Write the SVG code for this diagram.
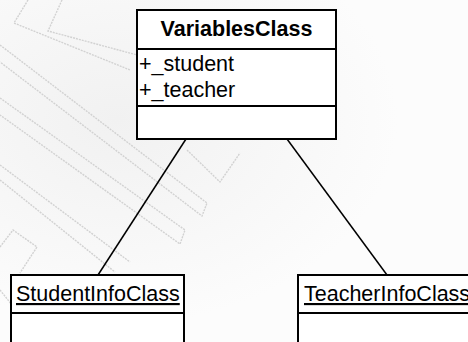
<svg xmlns="http://www.w3.org/2000/svg" width="468" height="342" viewBox="0 0 468 342">
  <defs>
    <style>
      .wm { fill: none; stroke: #d2d2d2; stroke-width: 1.4; stroke-dasharray: 2 1; }
      .box { fill: #ffffff; stroke: #000000; stroke-width: 2; }
      .div { stroke: #000000; stroke-width: 2; }
      .edge { stroke: #000000; stroke-width: 1.5; fill: none; }
      .t { font-family: "Liberation Sans", Arial, sans-serif; font-size: 21.5px; fill: #000000; }
      .title { font-weight: bold; text-anchor: middle; }
      .inst { text-decoration: underline; }
    </style>
    <radialGradient id="bgGlow" cx="0.25" cy="0.35" r="0.6">
      <stop offset="0" stop-color="#f1f1f1"/>
      <stop offset="1" stop-color="#fcfcfc"/>
    </radialGradient>
  </defs>

  <!-- page background with faint circuit-like watermark -->
  <rect width="468" height="342" fill="url(#bgGlow)"/>
  <g id="watermark">
    <polyline class="wm" points="28,0 14,23 130,70"/>
    <polyline class="wm" points="62,0 48,31 137,55"/>
    <polyline class="wm" points="0,45 207,203 202,216 0,62"/>
    <polyline class="wm" points="0,98 185,230 180,244 0,115"/>
    <polyline class="wm" points="0,165 130,262"/>
    <polyline class="wm" points="0,180 115,272"/>
    <polyline class="wm" points="187,150 220,182 240,153"/>
    <polyline class="wm" points="0,247 13,230 37,247 20,273"/>
    <polyline class="wm" points="0,290 20,315"/>
  </g>

  <!-- associations -->
  <g id="connectors">
    <line class="edge" x1="186" y1="139" x2="98" y2="275"/>
    <line class="edge" x1="287" y1="139" x2="387" y2="275"/>
  </g>

  <!-- class VariablesClass -->
  <g id="VariablesClass">
    <rect class="box" x="137" y="10" width="199" height="129"/>
    <line class="div" x1="137" y1="49" x2="336" y2="49"/>
    <line class="div" x1="137" y1="106" x2="336" y2="106"/>
    <text class="t title" x="236.5" y="36">VariablesClass</text>
    <text class="t" x="139" y="71">+_student</text>
    <text class="t" x="139" y="97">+_teacher</text>
  </g>

  <!-- object StudentInfoClass -->
  <g id="StudentInfoClass">
    <rect class="box" x="11" y="275" width="173" height="80"/>
    <line class="div" x1="11" y1="313" x2="184" y2="313"/>
    <text class="t inst" x="16" y="301">StudentInfoClass</text>
  </g>

  <!-- object TeacherInfoClass -->
  <g id="TeacherInfoClass">
    <rect class="box" x="298" y="275" width="180" height="80"/>
    <line class="div" x1="298" y1="313" x2="478" y2="313"/>
    <text class="t inst" x="304" y="301">TeacherInfoClass</text>
  </g>
</svg>
